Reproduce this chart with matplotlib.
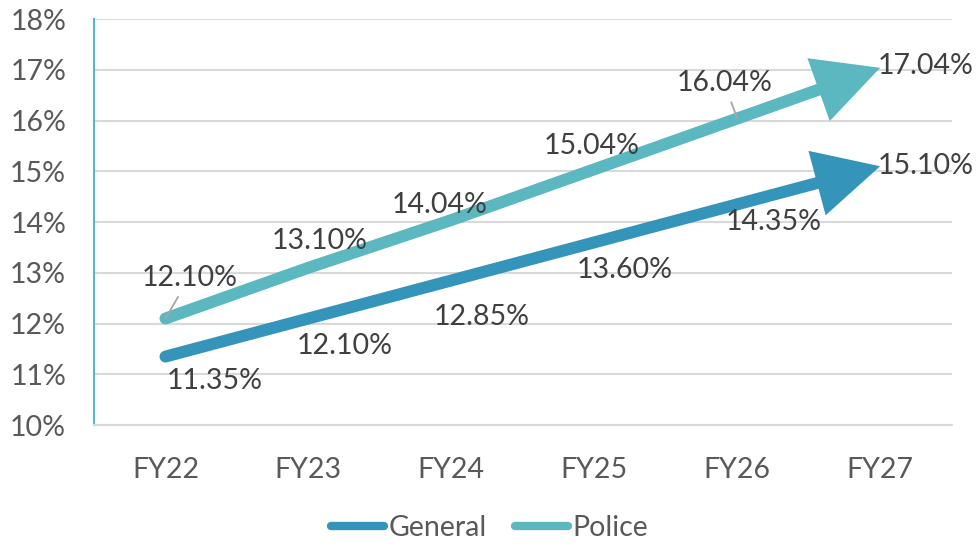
import matplotlib
matplotlib.use("Agg")
import matplotlib.pyplot as plt
from matplotlib.patches import FancyArrowPatch
from matplotlib.lines import Line2D
from matplotlib.ticker import FuncFormatter

years = ["FY22", "FY23", "FY24", "FY25", "FY26", "FY27"]
general = [11.35, 12.10, 12.85, 13.60, 14.35, 15.10]
police = [12.10, 13.10, 14.04, 15.04, 16.04, 17.04]

# label offsets in pixels (dx, dy) from each point
general_off = [(49, -24), (36, -27), (30, -37), (30, -28), (37, -18), (46, 0)]
police_off = [(24, 41), (11, 27), (-12, 15), (-3, 23), (-13, 36), (46, 2)]

c_general = "#3494BA"
c_police = "#5BB7C0"
txt = "#404040"
fs = 20.5

plt.rcParams["font.family"] = ["Lato", "DejaVu Sans"]

fig = plt.figure(figsize=(9.79, 5.45), dpi=100)
ax = fig.add_axes([0.096, 0.22, 0.876, 0.745])

x = list(range(len(years)))
lw = 8.6

for vals, col in [(general, c_general), (police, c_police)]:
    ax.plot(x[:-1], vals[:-1], color=col, lw=lw, solid_capstyle="round", zorder=3)
    arr = FancyArrowPatch((x[-2], vals[-2]), (x[-1], vals[-1]),
                          arrowstyle="simple,head_length=2.35,head_width=2.4,tail_width=0.43",
                          mutation_scale=20, color=col, lw=0, shrinkA=0, shrinkB=0, zorder=3)
    ax.add_patch(arr)

for xi, v, (dx, dy) in zip(x, general, general_off):
    ax.annotate(f"{v:.2f}%", (xi, v), xytext=(dx, dy), textcoords="offset pixels",
                ha="center", va="center", fontsize=fs, color=txt, zorder=4)

for i, (xi, v, (dx, dy)) in enumerate(zip(x, police, police_off)):
    ap = None
    if i in (0, 4):
        ap = dict(arrowstyle="-", color="#A6A6A6", lw=1.3, shrinkA=3, shrinkB=0)
    ax.annotate(f"{v:.2f}%", (xi, v), xytext=(dx, dy), textcoords="offset pixels",
                ha="center", va="center", fontsize=fs, color=txt, zorder=4,
                arrowprops=ap)

ax.set_xlim(-0.5, len(years) - 0.5)
ax.set_ylim(10, 18)
ax.set_yticks(range(10, 19))
ax.yaxis.set_major_formatter(FuncFormatter(lambda v, p: f"{int(v)}%"))
ax.set_xticks(x)
ax.set_xticklabels(years)
ax.tick_params(axis="both", length=0, labelsize=fs, labelcolor="#595959")
ax.tick_params(axis="y", pad=20)
ax.tick_params(axis="x", pad=23)
ax.grid(axis="y", color="#D9D9D9", lw=1.5, zorder=0)
ax.set_axisbelow(True)

for s in ["top", "right"]:
    ax.spines[s].set_visible(False)
ax.spines["left"].set_color(c_police)
ax.spines["left"].set_linewidth(1.5)
ax.spines["bottom"].set_color("#D9D9D9")
ax.spines["bottom"].set_linewidth(1.5)

handles = [Line2D([], [], color=c_general, lw=6, solid_capstyle="round"),
           Line2D([], [], color=c_police, lw=6, solid_capstyle="round")]
fig.legend(handles, ["General", "Police"], loc="center", bbox_to_anchor=(0.5, 0.031),
           ncol=2, frameon=False, fontsize=fs, labelcolor="#595959",
           handlelength=1.85, handletextpad=0.15, columnspacing=1.0)

fig.savefig("out.png", dpi=100)
